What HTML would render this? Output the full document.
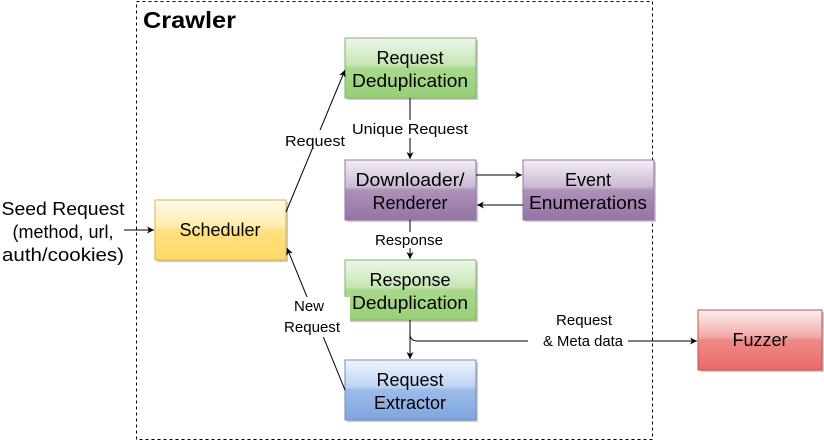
<!DOCTYPE html>
<html><head><style>body{margin:0;background:#fff}svg{display:block}</style></head><body>
<svg width="824" height="444" viewBox="0 0 824 444" font-family="'Liberation Sans', Arial, Helvetica, sans-serif" style="font-family:'Liberation Sans', Arial, Helvetica, sans-serif">
<defs>
<linearGradient id="g" x1="0" y1="0" x2="0" y2="1"><stop offset="0" stop-color="#eef7ea"/><stop offset="0.45" stop-color="#c6e5b3"/><stop offset="0.5" stop-color="#a9d98c"/><stop offset="1" stop-color="#97d077"/></linearGradient>
<linearGradient id="p" x1="0" y1="0" x2="0" y2="1"><stop offset="0" stop-color="#f3eef5"/><stop offset="0.45" stop-color="#cbb8d3"/><stop offset="0.5" stop-color="#ac92b8"/><stop offset="1" stop-color="#9673a6"/></linearGradient>
<linearGradient id="y" x1="0" y1="0" x2="0" y2="1"><stop offset="0" stop-color="#fffbe8"/><stop offset="0.45" stop-color="#ffecaa"/><stop offset="0.5" stop-color="#ffe184"/><stop offset="1" stop-color="#ffd966"/></linearGradient>
<linearGradient id="b" x1="0" y1="0" x2="0" y2="1"><stop offset="0" stop-color="#f0f5fd"/><stop offset="0.45" stop-color="#bcd2f2"/><stop offset="0.5" stop-color="#9dbbe8"/><stop offset="1" stop-color="#7ea6e0"/></linearGradient>
<linearGradient id="r" x1="0" y1="0" x2="0" y2="1"><stop offset="0" stop-color="#fdf0ef"/><stop offset="0.45" stop-color="#f3a8a6"/><stop offset="0.5" stop-color="#ee8a87"/><stop offset="1" stop-color="#ea6b66"/></linearGradient>
<marker id="a" markerWidth="8" markerHeight="8" refX="7" refY="4" orient="auto" markerUnits="userSpaceOnUse"><path d="M0,0.5 L7,4 L0,7.5 L2,4 Z" fill="#000"/></marker>
</defs>
<rect x="136.5" y="1.5" width="516" height="438" fill="none" stroke="#000" stroke-dasharray="3,3"/>
<text x="143" y="28" font-size="23" font-weight="bold" textLength="93" lengthAdjust="spacingAndGlyphs">Crawler</text>
<g stroke-width="1">
<rect x="347" y="40" width="131" height="60" fill="#ccc"/>
<rect x="345" y="38" width="131" height="60" fill="url(#g)" stroke="#82b366"/>
<rect x="347" y="162" width="131" height="60" fill="#ccc"/>
<rect x="345" y="160" width="131" height="60" fill="url(#p)" stroke="#9673a6"/>
<rect x="525" y="162" width="131" height="60" fill="#ccc"/>
<rect x="523" y="160" width="131" height="60" fill="url(#p)" stroke="#9673a6"/>
<rect x="347" y="262" width="131" height="60" fill="#ccc"/>
<rect x="345" y="260" width="131" height="60" fill="url(#g)" stroke="#82b366"/>
<rect x="347" y="362" width="131" height="60" fill="#ccc"/>
<rect x="345" y="360" width="131" height="60" fill="url(#b)" stroke="#6c8ebf"/>
<rect x="157" y="202" width="131" height="60" fill="#ccc"/>
<rect x="155" y="200" width="131" height="60" fill="url(#y)" stroke="#d6b656"/>
<rect x="700" y="312" width="126" height="60" fill="#ccc"/>
<rect x="698" y="310" width="124" height="60" fill="url(#r)" stroke="#b85450"/>
</g>
<g font-size="18" text-anchor="middle">
<text x="410" y="64">Request</text><text x="410" y="87" textLength="116" lengthAdjust="spacingAndGlyphs">Deduplication</text>
<text x="410" y="186" textLength="109" lengthAdjust="spacingAndGlyphs">Downloader/</text><text x="410" y="209">Renderer</text>
<text x="588" y="186">Event</text><text x="588" y="209" textLength="118" lengthAdjust="spacingAndGlyphs">Enumerations</text>
<text x="410" y="286">Response</text><text x="410" y="309" textLength="116" lengthAdjust="spacingAndGlyphs">Deduplication</text>
<text x="410" y="386">Request</text><text x="410" y="409">Extractor</text>
<text x="220" y="236">Scheduler</text>
<text x="760" y="346">Fuzzer</text>
<text x="63" y="215" textLength="123" lengthAdjust="spacingAndGlyphs">Seed Request</text><text x="63" y="238">(method, url,</text><text x="63" y="261" textLength="122" lengthAdjust="spacingAndGlyphs">auth/cookies)</text>
</g>
<g stroke="#000" fill="none">
<line x1="124" y1="230" x2="154" y2="230" marker-end="url(#a)"/>
<line x1="286" y1="212" x2="345" y2="70" marker-end="url(#a)"/>
<line x1="410" y1="98" x2="410" y2="159" marker-end="url(#a)"/>
<line x1="476" y1="175" x2="522" y2="175" marker-end="url(#a)"/>
<line x1="523" y1="205" x2="477" y2="205" marker-end="url(#a)"/>
<line x1="410" y1="220" x2="410" y2="259" marker-end="url(#a)"/>
<line x1="410" y1="320" x2="410" y2="359" marker-end="url(#a)"/>
<path d="M410,334 Q410,341 418,341 L697,341" marker-end="url(#a)"/>
<line x1="345" y1="390" x2="287" y2="248" marker-end="url(#a)"/>
</g>
<g font-size="15" text-anchor="middle">
<rect x="282" y="130" width="66" height="18" fill="#fff"/><text x="315" y="146" textLength="60" lengthAdjust="spacingAndGlyphs">Request</text>
<rect x="350" y="120" width="120" height="18" fill="#fff"/><text x="410" y="134" textLength="116" lengthAdjust="spacingAndGlyphs">Unique Request</text>
<rect x="370" y="232" width="80" height="16" fill="#fff"/><text x="409" y="245" textLength="68" lengthAdjust="spacingAndGlyphs">Response</text>
<rect x="290" y="297" width="60" height="40" fill="#fff"/><text x="309" y="311">New</text><text x="312" y="332" textLength="56" lengthAdjust="spacingAndGlyphs">Request</text>
<text x="584" y="325" textLength="56" lengthAdjust="spacingAndGlyphs">Request</text>
<rect x="528" y="333" width="100" height="16" fill="#fff"/><text x="583" y="346" textLength="80" lengthAdjust="spacingAndGlyphs">&amp; Meta data</text>
</g>
</svg>
</body></html>
